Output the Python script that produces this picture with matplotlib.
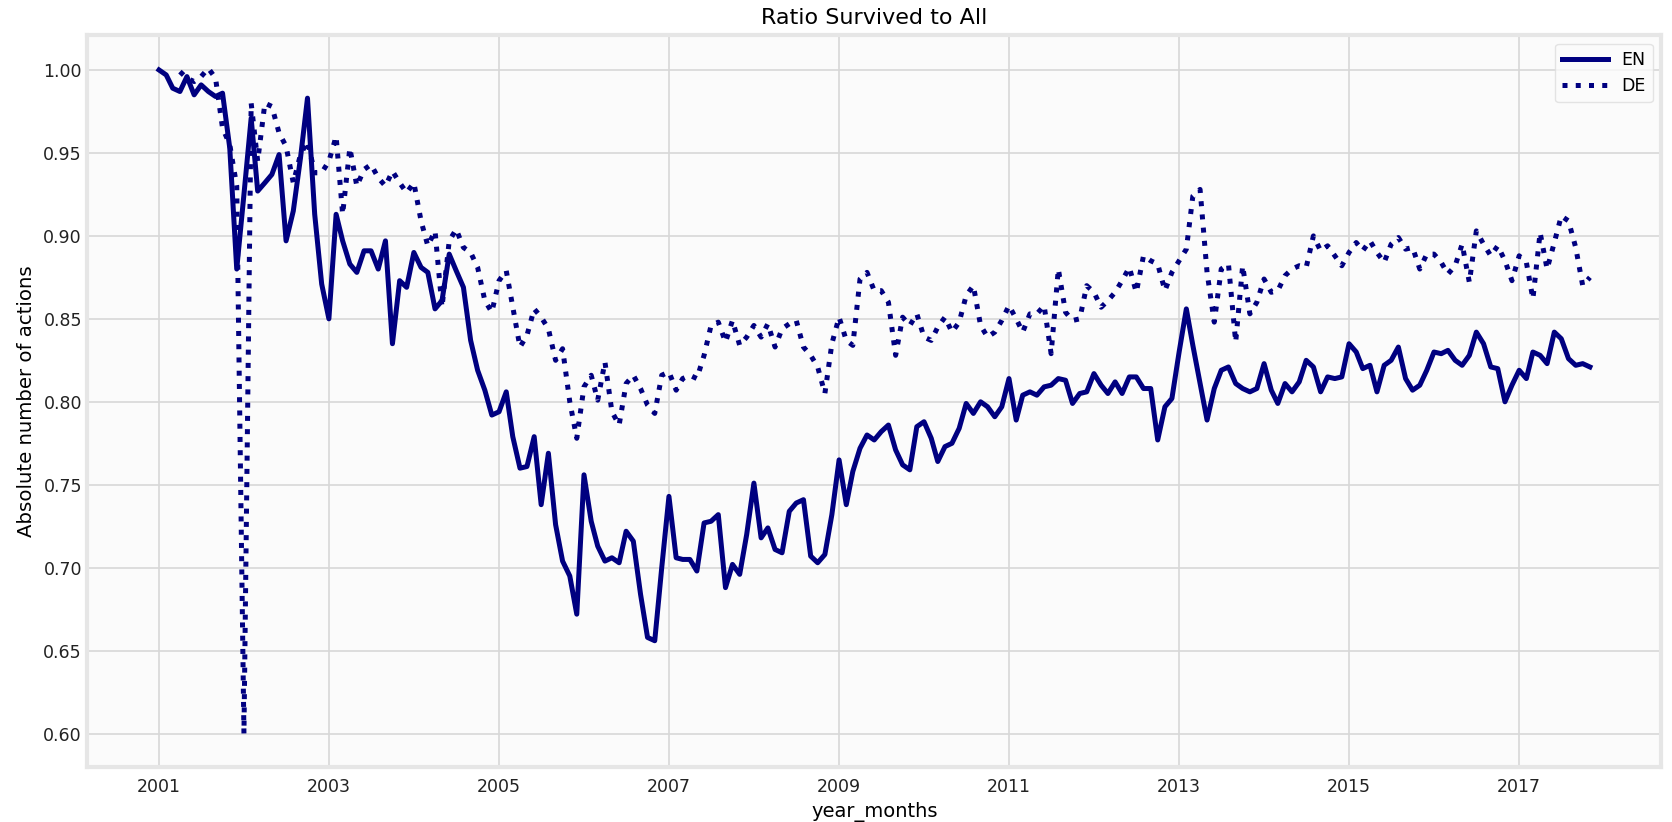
import matplotlib
matplotlib.use("Agg")
import matplotlib.pyplot as plt
import numpy as np
import pandas as pd

# monthly ratio of surviving actions, 2001-01 .. 2017-11
months = pd.date_range("2001-01-01", "2017-11-01", freq="MS")

en_ratio = [
    1.000, 0.997, 0.989, 0.987, 0.996, 0.985, 0.991, 0.987, 0.984, 0.986, 0.953, 0.880,
    0.925, 0.971, 0.927, 0.932, 0.937, 0.949, 0.897, 0.915, 0.947, 0.983, 0.913, 0.871,
    0.850, 0.913, 0.897, 0.883, 0.878, 0.891, 0.891, 0.880, 0.897, 0.835, 0.873, 0.869,
    0.890, 0.881, 0.878, 0.856, 0.861, 0.889, 0.879, 0.869, 0.837, 0.819, 0.807, 0.792,
    0.794, 0.806, 0.779, 0.760, 0.761, 0.779, 0.738, 0.769, 0.726, 0.704, 0.695, 0.672,
    0.756, 0.728, 0.713, 0.704, 0.706, 0.703, 0.722, 0.716, 0.684, 0.658, 0.656, 0.700,
    0.743, 0.706, 0.705, 0.705, 0.698, 0.727, 0.728, 0.732, 0.688, 0.702, 0.696, 0.720,
    0.751, 0.718, 0.724, 0.711, 0.709, 0.734, 0.739, 0.741, 0.707, 0.703, 0.708, 0.732,
    0.765, 0.738, 0.758, 0.772, 0.780, 0.777, 0.782, 0.786, 0.771, 0.762, 0.759, 0.785,
    0.788, 0.778, 0.764, 0.773, 0.775, 0.784, 0.799, 0.793, 0.800, 0.797, 0.791, 0.797,
    0.814, 0.789, 0.804, 0.806, 0.804, 0.809, 0.810, 0.814, 0.813, 0.799, 0.805, 0.806,
    0.817, 0.810, 0.805, 0.812, 0.805, 0.815, 0.815, 0.808, 0.808, 0.777, 0.797, 0.802,
    0.830, 0.856, 0.834, 0.811, 0.789, 0.808, 0.819, 0.821, 0.811, 0.808, 0.806, 0.808,
    0.823, 0.807, 0.799, 0.811, 0.806, 0.812, 0.825, 0.821, 0.806, 0.815, 0.814, 0.815,
    0.835, 0.830, 0.820, 0.822, 0.806, 0.822, 0.825, 0.833, 0.814, 0.807, 0.810, 0.819,
    0.830, 0.829, 0.831, 0.825, 0.822, 0.828, 0.842, 0.835, 0.821, 0.820, 0.800, 0.810,
    0.819, 0.814, 0.830, 0.828, 0.823, 0.842, 0.838, 0.826, 0.822, 0.823, 0.821,
]

de_ratio = [
    np.nan, np.nan, np.nan, 0.999, 0.995, 0.993, 0.996, 1.001, 0.995, 0.965, 0.955, 0.930,
    0.600, 0.980, 0.945, 0.980, 0.978, 0.962, 0.954, 0.932, 0.949, 0.957, 0.938, 0.938,
    0.945, 0.960, 0.913, 0.953, 0.930, 0.940, 0.943, 0.935, 0.930, 0.939, 0.932, 0.926,
    0.932, 0.909, 0.894, 0.903, 0.857, 0.897, 0.904, 0.893, 0.890, 0.881, 0.861, 0.854,
    0.873, 0.879, 0.857, 0.833, 0.840, 0.856, 0.851, 0.844, 0.825, 0.832, 0.800, 0.778,
    0.809, 0.816, 0.801, 0.824, 0.794, 0.786, 0.811, 0.816, 0.808, 0.798, 0.793, 0.816,
    0.818, 0.807, 0.814, 0.816, 0.814, 0.828, 0.846, 0.848, 0.836, 0.849, 0.834, 0.839,
    0.846, 0.839, 0.847, 0.833, 0.844, 0.847, 0.849, 0.833, 0.828, 0.821, 0.805, 0.835,
    0.851, 0.837, 0.834, 0.874, 0.878, 0.867, 0.867, 0.860, 0.828, 0.851, 0.846, 0.853,
    0.839, 0.837, 0.845, 0.851, 0.842, 0.848, 0.864, 0.870, 0.846, 0.839, 0.842, 0.849,
    0.858, 0.850, 0.842, 0.853, 0.853, 0.858, 0.829, 0.880, 0.854, 0.849, 0.850, 0.870,
    0.866, 0.857, 0.861, 0.866, 0.873, 0.881, 0.866, 0.888, 0.885, 0.883, 0.867, 0.878,
    0.885, 0.892, 0.924, 0.928, 0.878, 0.848, 0.880, 0.883, 0.836, 0.882, 0.853, 0.860,
    0.874, 0.866, 0.867, 0.876, 0.880, 0.882, 0.881, 0.900, 0.891, 0.894, 0.888, 0.882,
    0.890, 0.896, 0.891, 0.897, 0.890, 0.884, 0.895, 0.899, 0.892, 0.893, 0.880, 0.889,
    0.889, 0.884, 0.877, 0.882, 0.895, 0.872, 0.903, 0.895, 0.888, 0.894, 0.885, 0.873,
    0.888, 0.884, 0.862, 0.902, 0.880, 0.896, 0.912, 0.909, 0.893, 0.870, 0.875,
]

tick_years = list(range(2001, 2018, 2))

fig, ax = plt.subplots(figsize=(16.72, 8.22), dpi=100)
fig.patch.set_facecolor("white")
fig.subplots_adjust(left=0.0523, right=0.9937, bottom=0.067, top=0.9574)
ax.set_facecolor("#fbfbfb")

ax.plot(months, en_ratio, color="navy", lw=3.6, label="EN")
ax.plot(months, de_ratio, color="navy", lw=3.6, ls=":", label="DE")

ax.set_xticks(pd.to_datetime([f"{y}-01-01" for y in tick_years]))
ax.set_xticklabels([str(y) for y in tick_years])
ax.set_yticks(np.arange(0.60, 1.001, 0.05))
ax.set_yticklabels([f"{v:.2f}" for v in np.arange(0.60, 1.001, 0.05)])

ax.grid(True, color="#d8d8d8", lw=1.2)
ax.set_axisbelow(True)
for sp in ax.spines.values():
    sp.set_color("#e6e6e6")
    sp.set_linewidth(3)
ax.tick_params(length=0, labelsize=12.5, colors="#222222")
ax.tick_params(axis="y", pad=4)
ax.tick_params(axis="x", pad=8)

ax.set_title("Ratio Survived to All", fontsize=16, pad=8)
ax.set_ylabel("Absolute number of actions", fontsize=14.2, labelpad=5)
ax.set_xlabel("year_months", fontsize=14, labelpad=4)

leg = ax.legend(loc="upper right", fontsize=12.5, handlelength=2.6,
                frameon=True, fancybox=True)
leg.get_frame().set_edgecolor("#dddddd")
leg.get_frame().set_facecolor("#fbfbfb")

fig.savefig("out.png", dpi=100, facecolor="white")
